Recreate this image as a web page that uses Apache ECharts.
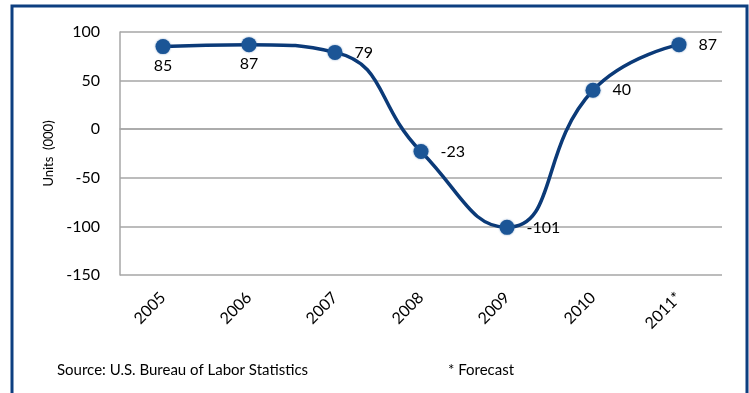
<!DOCTYPE html>
<html>
<head>
<meta charset="utf-8">
<script src="https://cdn.jsdelivr.net/npm/echarts@6/dist/echarts.min.js"></script>
<style>
  html, body { margin: 0; padding: 0; background: #fff; }
  #units-chart { width: 749px; height: 393px; }
</style>
</head>
<body>
<div id="units-chart"></div>
<script>
// chart data
var years = ['2005', '2006', '2007', '2008', '2009', '2010', '2011*']
var units = [85, 87, 79, -23, -101, 40, 87]
var yTicks = { min: -150, max: 100, step: 50 }
// labels under the point for the first two, to the right for the rest
var labelBelow = [true, true, false, false, false, false, false]

var font = 'Lato, "Open Sans", sans-serif'
var chart = echarts.init(document.getElementById('units-chart'))

var points = units.map(function (v, i) {
  return {
    value: v,
    label: labelBelow[i]
      ? { position: 'bottom', distance: 4 }
      : { position: 'right', distance: 12 }
  }
})

chart.setOption({
  animation: false,
  grid: {
    left: 120,
    right: 27,
    top: 32,
    bottom: 118
  },
  xAxis: {
    type: 'category',
    data: years,
    boundaryGap: true,
    axisLine: { lineStyle: { color: '#a6a6a6', width: 1.5 } },
    axisTick: { show: false },
    axisLabel: {
      rotate: 45,
      margin: 20,
      fontFamily: font,
      fontSize: 16,
      color: '#000'
    }
  },
  yAxis: {
    type: 'value',
    min: yTicks.min,
    max: yTicks.max,
    interval: yTicks.step,
    name: 'Units  (000)',
    nameLocation: 'middle',
    nameGap: 64,
    nameRotate: 90,
    nameTextStyle: { fontFamily: font, fontSize: 13, color: '#000' },
    axisLine: { show: true, lineStyle: { color: '#a6a6a6', width: 1.5 } },
    axisTick: { show: false },
    axisLabel: {
      margin: 20,
      fontFamily: font,
      fontSize: 16,
      color: '#000'
    },
    splitLine: { lineStyle: { color: '#a6a6a6', width: 1.5 } }
  },
  series: [{
    type: 'line',
    data: points,
    smooth: 0.5,
    symbol: 'circle',
    symbolSize: 15,
    lineStyle: { color: '#0b3a78', width: 3.5 },
    itemStyle: { color: '#1b5596', shadowBlur: 2, shadowColor: 'rgba(27,85,150,0.6)' },
    label: {
      show: true,
      fontFamily: font,
      fontSize: 16,
      color: '#000'
    }
  }],
  graphic: [
    {
      type: 'polyline',
      shape: { points: [[12, 393], [12, 6], [747, 6], [747, 393]] },
      style: { fill: null, stroke: '#0d3f80', lineWidth: 3 }
    },
    {
      type: 'text',
      left: 57,
      top: 363,
      style: { text: 'Source: U.S. Bureau of Labor Statistics', font: '15px ' + font, fill: '#000' }
    },
    {
      type: 'text',
      left: 448,
      top: 363,
      style: { text: '* Forecast', font: '15px ' + font, fill: '#000' }
    }
  ]
})
</script>
</body>
</html>
